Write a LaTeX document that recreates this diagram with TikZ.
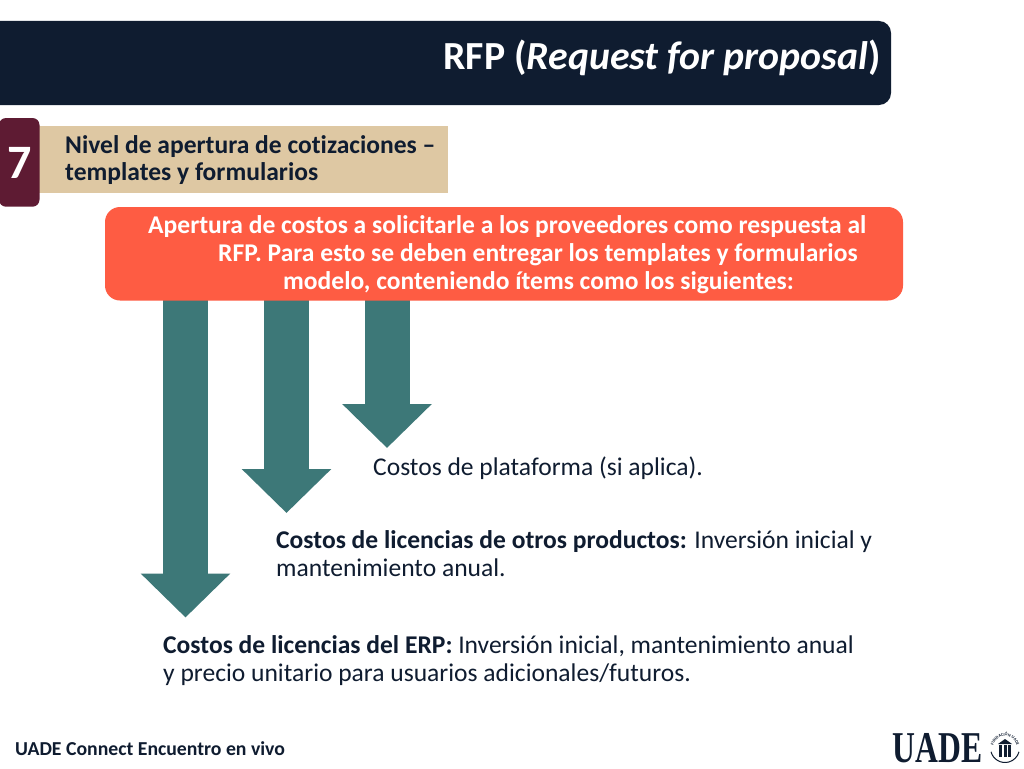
\documentclass[tikz,border=0pt]{standalone}
\usepackage{fontspec}
\setmainfont[RawFeature=-liga]{Carlito}
\newfontfamily\logofont[FakeStretch=0.72]{Liberation Serif}
\usetikzlibrary{arrows.meta,decorations.text}
\definecolor{navy}{HTML}{0F1C30}
\definecolor{wine}{HTML}{5E1B33}
\definecolor{sand}{HTML}{DEC8A3}
\definecolor{coral}{HTML}{FE5C43}
\definecolor{teal2}{HTML}{3D7878}
\tikzset{
  x=1pt,y=-1pt,
  blockarrow/.style={draw=teal2,line width=45pt,-{Triangle[length=44pt,width=87pt,fill=teal2]}},
  txt/.style={inner sep=0pt,anchor=base west,align=left,text=navy},
  body/.style={txt,font=\fontsize{25.55}{28}\selectfont},
}
\begin{document}
\begin{tikzpicture}
\useasboundingbox (0,0) rectangle (1024,768);
\fill[white] (0,0) rectangle (1024,768);
% title bar
\fill[navy,rounded corners=12pt] (-30,21) rectangle (891,105);
\node[anchor=base east,inner sep=0pt,text=white,font=\fontsize{39.8}{44}\selectfont\bfseries] (title) at (881,69) {RFP (\textit{Request for proposal})};
% section
\fill[sand] (30,126) rectangle (447.5,192.5);
\fill[wine,rounded corners=7pt] (-1,118) rectangle (39.5,206.7);
\node[inner sep=0pt,text=white,font=\fontsize{48}{50}\selectfont\bfseries] (seven) at (20,163) {7};
\node[txt,font=\fontsize{25.55}{27}\selectfont\bfseries] (sect) at (65,180) {Nivel de apertura de cotizaciones --\\templates y formularios};
% arrows
\coordinate (a1s) at (185.5,290); \coordinate (a1e) at (185.5,617.5);
\coordinate (a2s) at (286.5,290); \coordinate (a2e) at (286.5,513);
\coordinate (a3s) at (387,290);   \coordinate (a3e) at (387,448);
\draw[blockarrow] (a1s) -- (a1e);
\draw[blockarrow] (a2s) -- (a2e);
\draw[blockarrow] (a3s) -- (a3e);
% banner
\fill[coral,rounded corners=15pt] (105,207) rectangle (903,300.5);
\node[txt,text=white,font=\fontsize{25.55}{28}\selectfont\bfseries] (banner) at (148,289) {Apertura de costos a solicitarle a los proveedores como respuesta al\\
\hspace*{70pt}RFP. Para esto se deben entregar los templates y formularios\\
\hspace*{135pt}modelo, conteniendo ítems como los siguientes:};
% items
\node[body] (item3) at (373,475) {Costos de plataforma (si aplica).};
\node[body] (item2) at (276,576) {\textbf{Costos de licencias de otros productos:} Inversión inicial y\\mantenimiento anual.};
\node[body] (item1) at (163,681) {\textbf{Costos de licencias del ERP:} Inversión inicial, mantenimiento anual\\y precio unitario para usuarios adicionales/futuros.};
% footer
\node[txt,font=\fontsize{19.75}{22}\selectfont\bfseries] (foot) at (15,755) {UADE Connect Encuentro en vivo};
% logo
\node[inner sep=0pt,anchor=base west,text=navy,font=\logofont\bfseries\fontsize{44}{46}\selectfont] (uade) at (892.5,762) {UADE};
\coordinate (seal) at (1005,748);
\draw[navy,line width=1pt] (seal) ++(195:14.5pt) arc[start angle=195,end angle=345,radius=14.5pt];
\path[postaction={decorate},decoration={text along path,text align=center,text={|\fontsize{4.2}{5}\selectfont\bfseries\color{navy}|FUNDACIÓN UADE}}]
  (seal) ++(-12pt,0) arc[start angle=180,end angle=0,radius=12pt];
\fill[navy] (1005,739) -- (1012,744) -- (998,744) -- cycle;
\fill[navy] (999,745) rectangle (1002,757);
\fill[navy] (1003.5,745) rectangle (1006.5,757);
\fill[navy] (1008,745) rectangle (1011,757);
\end{tikzpicture}
\end{document}
